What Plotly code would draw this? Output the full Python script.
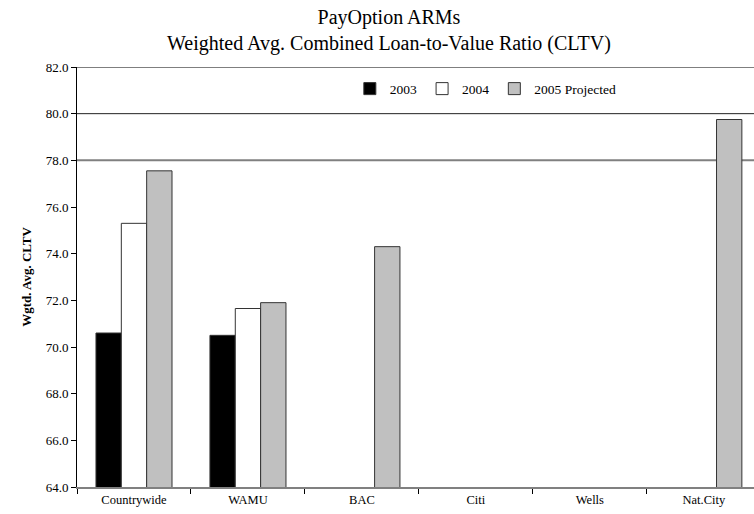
import plotly.graph_objects as go

categories = ["Countrywide", "WAMU", "BAC", "Citi", "Wells", "Nat.City"]
series_names = ["2003", "2004", "2005 Projected"]
v2003 = [70.6, 70.5, None, None, None, None]
v2004 = [75.3, 71.65, None, None, None, None]
v2005 = [77.55, 71.9, 74.3, None, None, 79.75]
y_ticks = [64, 66, 68, 70, 72, 74, 76, 78, 80, 82]
ref_lines = [82, 80, 78]

colors = ["#000000", "#FFFFFF", "#C0C0C0"]
font = "Liberation Serif, Times New Roman, serif"

fig = go.Figure()
for name, vals, col in zip(series_names, [v2003, v2004, v2005], colors):
    fig.add_trace(go.Bar(
        x=categories, y=vals, name=name,
        marker=dict(color=col, line=dict(color="#333333", width=1)),
    ))

line_styles = {82: ("#000000", 1), 80: ("#222222", 1), 78: ("#808080", 2)}
for v in ref_lines:
    c, w = line_styles[v]
    fig.add_shape(type="line", xref="paper", yref="y", x0=0, x1=1, y0=v, y1=v,
                  line=dict(color=c, width=w), layer="below")

fig.update_layout(
    width=754, height=514,
    paper_bgcolor="white", plot_bgcolor="white",
    font=dict(family=font, color="#000000", size=13),
    title=dict(text="PayOption ARMs<br>Weighted Avg. Combined Loan-to-Value Ratio (CLTV)",
               x=389 / 754, xref="container", xanchor="center",
               y=0.953, yref="container", yanchor="top",
               font=dict(size=20, family=font)),
    margin=dict(l=77, r=0, t=67, b=27, autoexpand=False),
    barmode="group", bargap=0.333, bargroupgap=0,
    showlegend=True,
    legend=dict(orientation="h", x=0.403, xanchor="left",
                y=0.948, yanchor="middle",
                font=dict(size=13.5, family=font), bgcolor="rgba(0,0,0,0)",
                traceorder="normal", itemwidth=30),
    xaxis=dict(type="category", range=[-0.5, 5.44], showgrid=False, showline=True,
               linecolor="#808080", linewidth=2,
               ticks="outside", tickson="boundaries", ticklen=5, tickcolor="#000000",
               tickfont=dict(size=12.5, family=font)),
    yaxis=dict(range=[64, 82], tickvals=y_ticks, tickformat=".1f", showgrid=False,
               showline=True, linecolor="#000000", linewidth=1, ticks="outside", ticklen=5,
               tickcolor="#000000", zeroline=False,
               title=dict(text="<b>Wgtd. Avg. CLTV</b>", font=dict(size=13, family=font), standoff=11),
               tickfont=dict(size=13, family=font)),
)

fig.write_html("out.html", config={"displayModeBar": False},
               post_script="document.body.style.margin='0';document.body.style.overflow='hidden';")
